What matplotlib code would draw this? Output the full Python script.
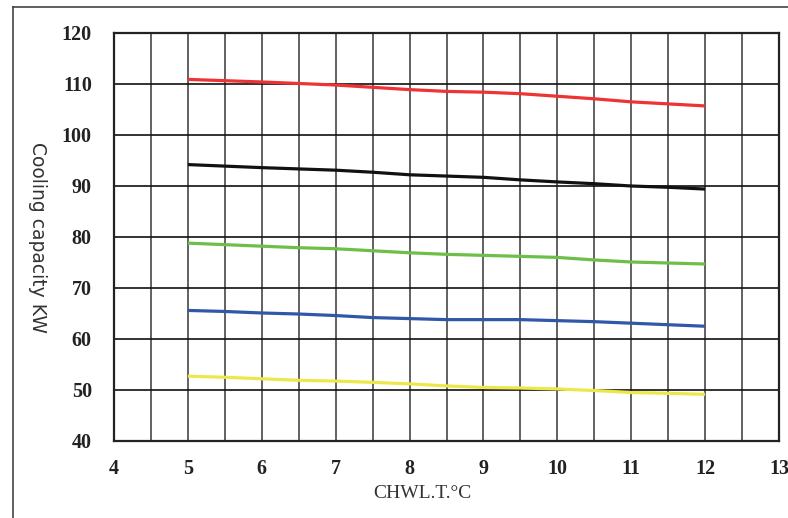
import numpy as np
import matplotlib
matplotlib.use("Agg")
import matplotlib.pyplot as plt
from matplotlib.lines import Line2D

# chilled water leaving temperature (°C)
temps = [5, 5.5, 6, 6.5, 7, 7.5, 8, 8.5, 9, 9.5, 10, 10.5, 11, 11.5, 12]

red = [110.9, 110.65, 110.4, 110.1, 109.8, 109.35, 108.9, 108.55, 108.4, 108.1, 107.6, 107.1, 106.5, 106.1, 105.7]
black = [94.2, 93.9, 93.6, 93.35, 93.1, 92.7, 92.2, 91.95, 91.7, 91.2, 90.8, 90.45, 90.0, 89.75, 89.4]
green = [78.8, 78.5, 78.2, 77.9, 77.7, 77.3, 76.9, 76.6, 76.4, 76.2, 76.0, 75.5, 75.1, 74.9, 74.7]
blue = [65.6, 65.4, 65.1, 64.9, 64.6, 64.2, 64.0, 63.8, 63.8, 63.8, 63.6, 63.4, 63.1, 62.8, 62.5]
yellow = [52.7, 52.5, 52.2, 51.9, 51.75, 51.5, 51.2, 50.8, 50.5, 50.4, 50.2, 49.9, 49.5, 49.35, 49.15]

x_ticks = [4, 5, 6, 7, 8, 9, 10, 11, 12, 13]
y_ticks = [40, 50, 60, 70, 80, 90, 100, 110, 120]

fig = plt.figure(figsize=(7.88, 5.18), dpi=100)
ax = fig.add_axes([114 / 788, 1 - 441 / 518, (779 - 114) / 788, (441 - 33) / 518])

# grid: vertical every 0.5, horizontal every 10
for xv in np.arange(4.5, 13, 0.5):
    ax.axvline(xv, color="#555555", lw=1.3, zorder=1)
for yv in y_ticks[1:-1]:
    ax.axhline(yv, color="#111111", lw=1.2, zorder=1)

series = [
    (red, "#ee3333"),
    (black, "#111111"),
    (green, "#6dbf47"),
    (blue, "#2f58a8"),
    (yellow, "#ece84c"),
]
for vals, col in series:
    ax.plot(temps, vals, color=col, lw=2.3, zorder=3, solid_capstyle="butt")

ax.set_xlim(4, 13)
ax.set_ylim(40, 120)
ax.set_xticks(x_ticks)
ax.set_yticks(y_ticks)
ax.tick_params(length=0)
ax.tick_params(axis="x", pad=13)
ax.tick_params(axis="y", pad=16)
for lab in ax.get_xticklabels() + ax.get_yticklabels():
    lab.set_fontfamily("Liberation Serif")
    lab.set_fontweight("bold")
    lab.set_fontsize(14.5)
    lab.set_color("#222222")
for sp in ax.spines.values():
    sp.set_color("#222222")
    sp.set_linewidth(1.6)

fig.text(37 / 788, 1 - 237 / 518, "Cooling capacity KW", rotation=270,
         ha="center", va="center", fontsize=13.5, color="#333333",
         family="DejaVu Sans")
fig.text(422 / 788, 1 - 494 / 518, "CHWL.T.°C", ha="center", va="center",
         fontsize=14, color="#333333", family="Liberation Serif")

# outer frame (left and top edges)
fig.add_artist(Line2D([13 / 788, 13 / 788], [0, 1 - 7 / 518], color="#444444", lw=1.2))
fig.add_artist(Line2D([13 / 788, 1], [1 - 7 / 518, 1 - 7 / 518], color="#444444", lw=1.2))

fig.savefig("out.png", dpi=100)
